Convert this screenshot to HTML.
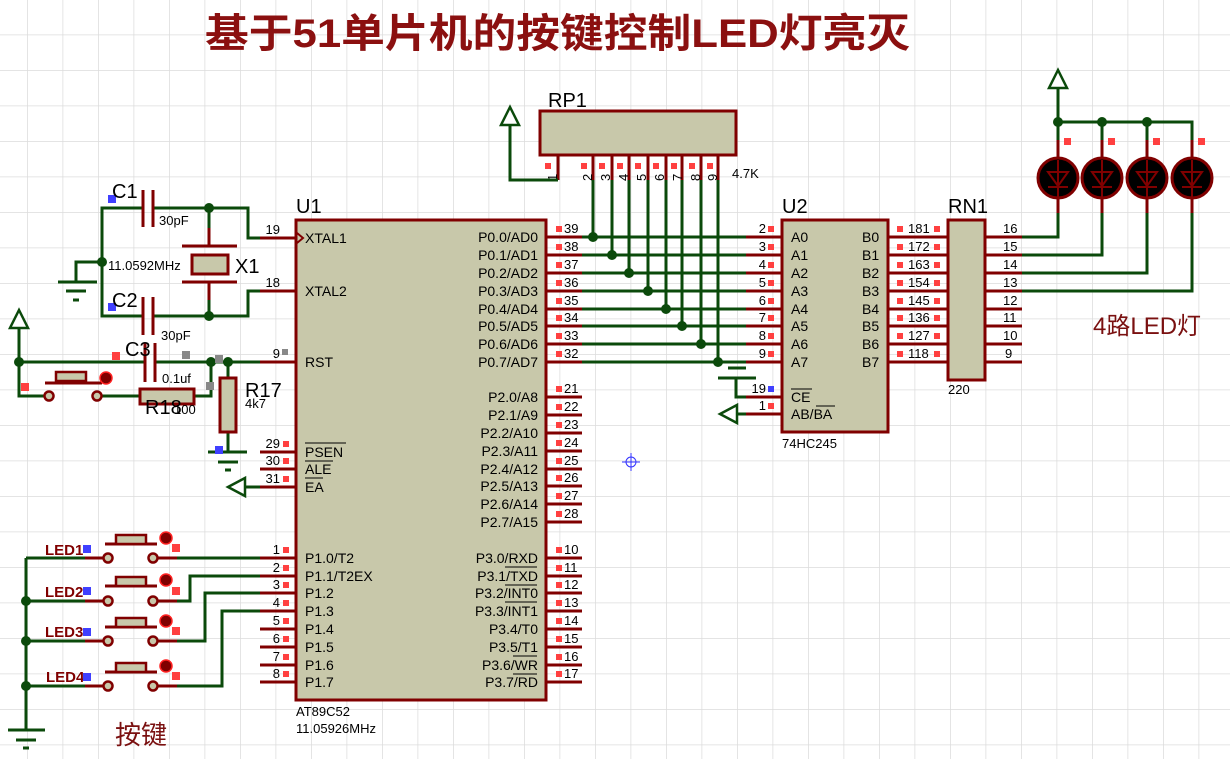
<!DOCTYPE html>
<html><head><meta charset="utf-8"><style>
html,body{margin:0;padding:0;background:#fff}
svg{display:block}
text{font-family:"Liberation Sans","Noto Sans CJK SC",sans-serif}
.pn{font-size:13px;fill:#000}
.nm{font-size:14px;fill:#000}
.lb{font-size:20px;fill:#000}
.m{stroke:#800000;stroke-width:3;fill:none}
.g{stroke:#0b4a0b;stroke-width:3;fill:none}
.box{fill:#c8c8aa;stroke:#800000;stroke-width:3}
.r{fill:#ff4040}
.d{fill:#0b4a0b}
</style></head><body>
<svg width="1230" height="759" viewBox="0 0 1230 759" xmlns="http://www.w3.org/2000/svg">
<defs>
<pattern id="grid" x="27" y="-1" width="35.5" height="35.5" patternUnits="userSpaceOnUse">
<path d="M0 0V35.5M0 0H35.5" stroke="#dcdcdc" stroke-width="1.5" fill="none"/>
</pattern>
</defs>
<rect width="1230" height="759" fill="#fff"/>
<rect width="1230" height="759" fill="url(#grid)"/>

<text x="205" y="47" font-size="40" font-weight="bold" fill="#8b1010" textLength="705" lengthAdjust="spacingAndGlyphs">基于51单片机的按键控制LED灯亮灭</text>

<!-- U1 -->
<g class="m">
<path d="M260 238H296M260 291H296M260 362H296M260 452H296M260 469H296M260 487H296"/>
<path d="M260 558H296M260 576H296M260 593H296M260 611H296M260 629H296M260 647H296M260 665H296M260 682H296"/>
<path d="M546 237H582M546 255H582M546 273H582M546 291H582M546 309H582M546 326H582M546 344H582M546 362H582"/>
<path d="M546 397H582M546 415H582M546 433H582M546 451H582M546 469H582M546 486H582M546 504H582M546 522H582"/>
<path d="M546 558H582M546 576H582M546 593H582M546 611H582M546 629H582M546 647H582M546 665H582M546 682H582"/>
</g>
<rect class="box" x="296" y="220" width="250" height="480"/>
<path d="M297 233L303 238L297 243" stroke="#800000" stroke-width="2" fill="none"/>
<text x="296" y="213" class="lb">U1</text>
<g class="nm">
<text x="305" y="243">XTAL1</text><text x="305" y="296">XTAL2</text><text x="305" y="367">RST</text>
<text x="305" y="457">PSEN</text><text x="305" y="474">ALE</text><text x="305" y="492">EA</text>
<text x="305" y="563">P1.0/T2</text><text x="305" y="581">P1.1/T2EX</text><text x="305" y="598">P1.2</text><text x="305" y="616">P1.3</text>
<text x="305" y="634">P1.4</text><text x="305" y="652">P1.5</text><text x="305" y="670">P1.6</text><text x="305" y="687">P1.7</text>
</g>
<path d="M305 443H346M305 461H333M305 478H323" stroke="#000" stroke-width="1"/>
<g class="nm" text-anchor="end">
<text x="538" y="242">P0.0/AD0</text><text x="538" y="260">P0.1/AD1</text><text x="538" y="278">P0.2/AD2</text><text x="538" y="296">P0.3/AD3</text>
<text x="538" y="314">P0.4/AD4</text><text x="538" y="331">P0.5/AD5</text><text x="538" y="349">P0.6/AD6</text><text x="538" y="367">P0.7/AD7</text>
<text x="538" y="402">P2.0/A8</text><text x="538" y="420">P2.1/A9</text><text x="538" y="438">P2.2/A10</text><text x="538" y="456">P2.3/A11</text>
<text x="538" y="474">P2.4/A12</text><text x="538" y="491">P2.5/A13</text><text x="538" y="509">P2.6/A14</text><text x="538" y="527">P2.7/A15</text>
<text x="538" y="563">P3.0/RXD</text><text x="538" y="581">P3.1/TXD</text><text x="538" y="598">P3.2/INT0</text><text x="538" y="616">P3.3/INT1</text>
<text x="538" y="634">P3.4/T0</text><text x="538" y="652">P3.5/T1</text><text x="538" y="670">P3.6/WR</text><text x="538" y="687">P3.7/RD</text>
</g>
<path d="M505 567H537M505 585H537M505 602H537M513 656H537M513 674H537" stroke="#000" stroke-width="1"/>
<g class="pn" text-anchor="end">
<text x="280" y="234">19</text><text x="280" y="287">18</text><text x="280" y="358">9</text>
<text x="280" y="448">29</text><text x="280" y="465">30</text><text x="280" y="483">31</text>
<text x="280" y="554">1</text><text x="280" y="572">2</text><text x="280" y="589">3</text><text x="280" y="607">4</text>
<text x="280" y="625">5</text><text x="280" y="643">6</text><text x="280" y="661">7</text><text x="280" y="678">8</text>
</g>
<g class="pn">
<text x="564" y="233">39</text><text x="564" y="251">38</text><text x="564" y="269">37</text><text x="564" y="287">36</text>
<text x="564" y="305">35</text><text x="564" y="322">34</text><text x="564" y="340">33</text><text x="564" y="358">32</text>
<text x="564" y="393">21</text><text x="564" y="411">22</text><text x="564" y="429">23</text><text x="564" y="447">24</text>
<text x="564" y="465">25</text><text x="564" y="482">26</text><text x="564" y="500">27</text><text x="564" y="518">28</text>
<text x="564" y="554">10</text><text x="564" y="572">11</text><text x="564" y="589">12</text><text x="564" y="607">13</text>
<text x="564" y="625">14</text><text x="564" y="643">15</text><text x="564" y="661">16</text><text x="564" y="678">17</text>
</g>
<g class="r">
<rect x="283" y="441" width="6" height="6"/><rect x="283" y="458" width="6" height="6"/><rect x="283" y="476" width="6" height="6"/>
<rect x="283" y="547" width="6" height="6"/><rect x="283" y="565" width="6" height="6"/><rect x="283" y="582" width="6" height="6"/><rect x="283" y="600" width="6" height="6"/>
<rect x="283" y="618" width="6" height="6"/><rect x="283" y="636" width="6" height="6"/><rect x="283" y="654" width="6" height="6"/><rect x="283" y="671" width="6" height="6"/>
<rect x="556" y="226" width="6" height="6"/><rect x="556" y="244" width="6" height="6"/><rect x="556" y="262" width="6" height="6"/><rect x="556" y="280" width="6" height="6"/>
<rect x="556" y="298" width="6" height="6"/><rect x="556" y="315" width="6" height="6"/><rect x="556" y="333" width="6" height="6"/><rect x="556" y="351" width="6" height="6"/>
<rect x="556" y="386" width="6" height="6"/><rect x="556" y="404" width="6" height="6"/><rect x="556" y="422" width="6" height="6"/><rect x="556" y="440" width="6" height="6"/>
<rect x="556" y="458" width="6" height="6"/><rect x="556" y="475" width="6" height="6"/><rect x="556" y="493" width="6" height="6"/><rect x="556" y="511" width="6" height="6"/>
<rect x="556" y="547" width="6" height="6"/><rect x="556" y="565" width="6" height="6"/><rect x="556" y="582" width="6" height="6"/><rect x="556" y="600" width="6" height="6"/>
<rect x="556" y="618" width="6" height="6"/><rect x="556" y="636" width="6" height="6"/><rect x="556" y="654" width="6" height="6"/><rect x="556" y="671" width="6" height="6"/>
</g>
<rect x="282" y="349" width="6" height="6" fill="#888"/>
<text x="296" y="716" class="pn">AT89C52</text>
<text x="296" y="733" class="pn">11.05926MHz</text>

<!-- RP1 -->
<g class="m"><path d="M558 155V180M593 155V180M612 155V180M629 155V180M648 155V180M666 155V180M682 155V180M701 155V180M718 155V180"/></g>
<rect class="box" x="540" y="111" width="196" height="44"/>
<text x="548" y="107" class="lb">RP1</text>
<g class="r">
<rect x="545" y="163" width="6" height="6"/><rect x="581" y="163" width="6" height="6"/><rect x="599" y="163" width="6" height="6"/><rect x="617" y="163" width="6" height="6"/>
<rect x="635" y="163" width="6" height="6"/><rect x="653" y="163" width="6" height="6"/><rect x="671" y="163" width="6" height="6"/><rect x="689" y="163" width="6" height="6"/><rect x="707" y="163" width="6" height="6"/>
</g>
<g class="pn">
<text transform="translate(557,181) rotate(-90)">1</text><text transform="translate(592,181) rotate(-90)">2</text><text transform="translate(610,181) rotate(-90)">3</text>
<text transform="translate(628,181) rotate(-90)">4</text><text transform="translate(646,181) rotate(-90)">5</text><text transform="translate(664,181) rotate(-90)">6</text>
<text transform="translate(682,181) rotate(-90)">7</text><text transform="translate(700,181) rotate(-90)">8</text><text transform="translate(717,181) rotate(-90)">9</text>
</g>
<text x="732" y="178" class="pn">4.7K</text>
<path class="g" d="M558 180H510V110"/>
<path d="M510 107L501 125H519Z" fill="#fff" stroke="#0b4a0b" stroke-width="2.5"/>

<!-- bus wires -->
<g class="g">
<path d="M582 237H746M582 255H746M582 273H746M582 291H746M582 309H746M582 326H746M582 344H746M582 362H746"/>
<path d="M593 180V237M612 180V255M629 180V273M648 180V291M666 180V309M682 180V326M701 180V344M718 180V362"/>
</g>
<g class="d">
<circle cx="593" cy="237" r="5"/><circle cx="612" cy="255" r="5"/><circle cx="629" cy="273" r="5"/><circle cx="648" cy="291" r="5"/>
<circle cx="666" cy="309" r="5"/><circle cx="682" cy="326" r="5"/><circle cx="701" cy="344" r="5"/><circle cx="718" cy="362" r="5"/>
</g>
<path class="g" d="M728 368H746M718 378H756M736 378V397H746M721 414H746"/>
<path d="M720 414L737 405V423Z" fill="#fff" stroke="#0b4a0b" stroke-width="2.5"/>

<!-- U2 -->
<g class="m">
<path d="M746 237H782M746 255H782M746 273H782M746 291H782M746 309H782M746 326H782M746 344H782M746 362H782M746 397H782M746 414H782"/>
<path d="M888 237H948M888 255H948M888 273H948M888 291H948M888 309H948M888 326H948M888 344H948M888 362H948"/>
<path d="M985 237H1022M985 255H1022M985 273H1022M985 291H1022M985 309H1022M985 326H1022M985 344H1022M985 362H1022"/>
</g>
<rect class="box" x="782" y="220" width="106" height="212"/>
<text x="782" y="213" class="lb">U2</text>
<text x="782" y="448" class="pn">74HC245</text>
<g class="nm">
<text x="791" y="242">A0</text><text x="791" y="260">A1</text><text x="791" y="278">A2</text><text x="791" y="296">A3</text>
<text x="791" y="314">A4</text><text x="791" y="331">A5</text><text x="791" y="349">A6</text><text x="791" y="367">A7</text>
<text x="791" y="402">CE</text><text x="791" y="419">AB/BA</text>
<text x="862" y="242">B0</text><text x="862" y="260">B1</text><text x="862" y="278">B2</text><text x="862" y="296">B3</text>
<text x="862" y="314">B4</text><text x="862" y="331">B5</text><text x="862" y="349">B6</text><text x="862" y="367">B7</text>
</g>
<path d="M791 389H812M816 406H835" stroke="#000" stroke-width="1"/>
<g class="pn" text-anchor="end">
<text x="766" y="233">2</text><text x="766" y="251">3</text><text x="766" y="269">4</text><text x="766" y="287">5</text>
<text x="766" y="305">6</text><text x="766" y="322">7</text><text x="766" y="340">8</text><text x="766" y="358">9</text>
<text x="766" y="393">19</text><text x="766" y="410">1</text>
</g>
<g class="r">
<rect x="768" y="226" width="6" height="6"/><rect x="768" y="244" width="6" height="6"/><rect x="768" y="262" width="6" height="6"/><rect x="768" y="280" width="6" height="6"/>
<rect x="768" y="298" width="6" height="6"/><rect x="768" y="315" width="6" height="6"/><rect x="768" y="333" width="6" height="6"/><rect x="768" y="351" width="6" height="6"/>
<rect x="768" y="403" width="6" height="6"/>
</g>
<rect x="768" y="386" width="6" height="6" fill="#4040ff"/>
<g class="pn">
<text x="908" y="233">181</text><text x="908" y="251">172</text><text x="908" y="269">163</text><text x="908" y="287">154</text>
<text x="908" y="305">145</text><text x="908" y="322">136</text><text x="908" y="340">127</text><text x="908" y="358">118</text>
</g>
<g class="r">
<rect x="897" y="226" width="6" height="6"/><rect x="897" y="244" width="6" height="6"/><rect x="897" y="262" width="6" height="6"/><rect x="897" y="280" width="6" height="6"/>
<rect x="897" y="298" width="6" height="6"/><rect x="897" y="315" width="6" height="6"/><rect x="897" y="333" width="6" height="6"/><rect x="897" y="351" width="6" height="6"/>
<rect x="934" y="226" width="6" height="6"/><rect x="934" y="244" width="6" height="6"/><rect x="934" y="262" width="6" height="6"/><rect x="934" y="280" width="6" height="6"/>
<rect x="934" y="298" width="6" height="6"/><rect x="934" y="315" width="6" height="6"/><rect x="934" y="333" width="6" height="6"/><rect x="934" y="351" width="6" height="6"/>
</g>

<!-- RN1 -->
<rect class="box" x="948" y="220" width="37" height="160"/>
<text x="948" y="213" class="lb">RN1</text>
<text x="948" y="394" class="pn">220</text>
<g class="pn">
<text x="1003" y="233">16</text><text x="1003" y="251">15</text><text x="1003" y="269">14</text><text x="1003" y="287">13</text>
<text x="1003" y="305">12</text><text x="1003" y="322">11</text><text x="1003" y="340">10</text><text x="1005" y="358">9</text>
</g>

<!-- LEDs -->
<path class="g" d="M1022 237H1058V213M1022 255H1102V213M1022 273H1147V213M1022 291H1192V213"/>
<path class="g" d="M1058 122H1192V140M1058 122V140M1102 122V140M1147 122V140M1058 122V72"/>
<path d="M1058 70L1049 88H1067Z" fill="#fff" stroke="#0b4a0b" stroke-width="2.5"/>
<g class="d"><circle cx="1058" cy="122" r="5"/><circle cx="1102" cy="122" r="5"/><circle cx="1147" cy="122" r="5"/></g>
<g>
<path class="m" d="M1058 140V157M1058 199V213M1102 140V157M1102 199V213M1147 140V157M1147 199V213M1192 140V157M1192 199V213"/>
<circle cx="1058" cy="178" r="20" fill="#000" stroke="#800000" stroke-width="3"/>
<circle cx="1102" cy="178" r="20" fill="#000" stroke="#800000" stroke-width="3"/>
<circle cx="1147" cy="178" r="20" fill="#000" stroke="#800000" stroke-width="3"/>
<circle cx="1192" cy="178" r="20" fill="#000" stroke="#800000" stroke-width="3"/>
<g stroke="#800000" stroke-width="2" fill="none">
<path d="M1058 160V197M1048 172H1068L1058 186Z M1048 187H1068"/>
<path d="M1102 160V197M1092 172H1112L1102 186Z M1092 187H1112"/>
<path d="M1147 160V197M1137 172H1157L1147 186Z M1137 187H1157"/>
<path d="M1192 160V197M1182 172H1202L1192 186Z M1182 187H1202"/>
</g>
</g>
<g class="r"><rect x="1064" y="138" width="7" height="7"/><rect x="1108" y="138" width="7" height="7"/><rect x="1153" y="138" width="7" height="7"/><rect x="1198" y="138" width="7" height="7"/></g>
<text x="1093" y="334" font-size="24" fill="#7a1010">4路LED灯</text>

<!-- crystal circuit -->
<path class="g" d="M142 208H102V316H142M102 262H76V282M153 208H248V238H260M153 316H248V291H260M209 208V228M209 300V316"/>
<path class="m" d="M142 208H143M209 228V246M209 282V300"/>
<path class="m" d="M143 190V227M153 190V227M143 297V335M153 297V335M182 246H237M182 282H237"/>
<rect x="192" y="255" width="36" height="19" fill="#c8c8aa" stroke="#800000" stroke-width="3"/>
<path d="M58 282H97M66 291H86M73 300H79" stroke="#0b4a0b" stroke-width="3"/>
<g class="d"><circle cx="209" cy="208" r="5"/><circle cx="209" cy="316" r="5"/><circle cx="102" cy="262" r="5"/></g>
<rect x="108" y="195" width="8" height="8" fill="#4040ff"/><rect x="108" y="303" width="8" height="8" fill="#4040ff"/>
<text x="112" y="198" class="lb">C1</text><text x="159" y="225" class="pn">30pF</text>
<text x="112" y="307" class="lb">C2</text><text x="161" y="340" class="pn">30pF</text>
<text x="108" y="270" class="pn">11.0592MHz</text><text x="235" y="273" class="lb">X1</text>

<!-- reset circuit -->
<path class="g" d="M19 312V396H45M19 362H145M155 362H260M102 396H140M194 396H211V362M228 362V378M228 432V452"/>
<path d="M19 310L10 328H28Z" fill="#fff" stroke="#0b4a0b" stroke-width="2.5"/>
<path class="m" d="M145 343V382M155 343V382M45 383H102"/>
<rect x="56" y="372" width="30" height="9" fill="#c8c8aa" stroke="#800000" stroke-width="2.5"/>
<circle cx="49" cy="396" r="4.5" fill="#c8c8aa" stroke="#800000" stroke-width="2.5"/>
<circle cx="97" cy="396" r="4.5" fill="#c8c8aa" stroke="#800000" stroke-width="2.5"/>
<circle cx="106" cy="378" r="6" fill="#800000" stroke="#ff2020" stroke-width="1.5"/>
<rect x="140" y="389" width="54" height="15" fill="#c8c8aa" stroke="#800000" stroke-width="3"/>
<rect x="220" y="378" width="16" height="54" fill="#c8c8aa" stroke="#800000" stroke-width="3"/>
<path d="M208 452H247M218 462H238M225 470H231" stroke="#0b4a0b" stroke-width="3"/>
<g class="d"><circle cx="19" cy="362" r="5"/><circle cx="211" cy="362" r="5"/><circle cx="228" cy="362" r="5"/></g>
<rect x="112" y="352" width="8" height="8" class="r"/><rect x="21" y="383" width="8" height="8" class="r"/>
<rect x="182" y="351" width="8" height="8" fill="#888"/><rect x="215" y="355" width="8" height="8" fill="#888"/><rect x="206" y="382" width="8" height="8" fill="#888"/>
<rect x="215" y="446" width="8" height="8" fill="#4040ff"/>
<text x="125" y="356" class="lb">C3</text><text x="162" y="383" class="pn">0.1uf</text>
<text x="145" y="414" class="lb">R18</text><text x="174" y="414" class="pn">100</text>
<text x="245" y="397" class="lb">R17</text><text x="245" y="408" class="pn">4k7</text>
<path class="g" d="M231 487H260"/>
<path d="M228 487L245 478V496Z" fill="#fff" stroke="#0b4a0b" stroke-width="2.5"/>

<!-- buttons -->
<path class="g" d="M26 558V730M26 558H85M26 601H85M26 641H85M26 686H85M177 558H260M177 601H190V576H260M177 641H205V593H260M177 686H222V611H260"/>
<path d="M8 730H45M16 740H36M23 748H29" stroke="#0b4a0b" stroke-width="3"/>
<g class="d"><circle cx="26" cy="601" r="5"/><circle cx="26" cy="641" r="5"/><circle cx="26" cy="686" r="5"/></g>
<g class="m"><path d="M85 558H104M157 558H177M85 601H104M157 601H177M85 641H104M157 641H177M85 686H104M157 686H177"/>
<path d="M105 544H157M105 586H157M105 627H157M105 672H157"/></g>
<g fill="#c8c8aa" stroke="#800000" stroke-width="2.5">
<rect x="116" y="535" width="30" height="9"/><rect x="116" y="577" width="30" height="9"/><rect x="116" y="618" width="30" height="9"/><rect x="116" y="663" width="30" height="9"/>
<circle cx="108" cy="558" r="4.5"/><circle cx="153" cy="558" r="4.5"/><circle cx="108" cy="601" r="4.5"/><circle cx="153" cy="601" r="4.5"/>
<circle cx="108" cy="641" r="4.5"/><circle cx="153" cy="641" r="4.5"/><circle cx="108" cy="686" r="4.5"/><circle cx="153" cy="686" r="4.5"/>
</g>
<g fill="#800000" stroke="#ff2020" stroke-width="1.5"><circle cx="166" cy="538" r="6"/><circle cx="166" cy="580" r="6"/><circle cx="166" cy="621" r="6"/><circle cx="166" cy="666" r="6"/></g>
<g class="r"><rect x="172" y="544" width="8" height="8"/><rect x="172" y="587" width="8" height="8"/><rect x="172" y="627" width="8" height="8"/><rect x="172" y="672" width="8" height="8"/></g>
<g font-size="15" font-weight="bold" fill="#800000">
<text x="45" y="555">LED1</text><text x="45" y="597">LED2</text><text x="45" y="637">LED3</text><text x="46" y="682">LED4</text>
</g>
<g fill="#4040ff"><rect x="83" y="545" width="8" height="8"/><rect x="83" y="587" width="8" height="8"/><rect x="83" y="628" width="8" height="8"/><rect x="83" y="673" width="8" height="8"/></g>
<text x="115" y="744" font-size="26" fill="#7a1010">按键</text>

<!-- cursor -->
<g stroke="#3030ff" stroke-width="1" fill="none"><circle cx="631" cy="462" r="5"/><path d="M622 462H640M631 453V471"/></g>
</svg>
</body></html>
